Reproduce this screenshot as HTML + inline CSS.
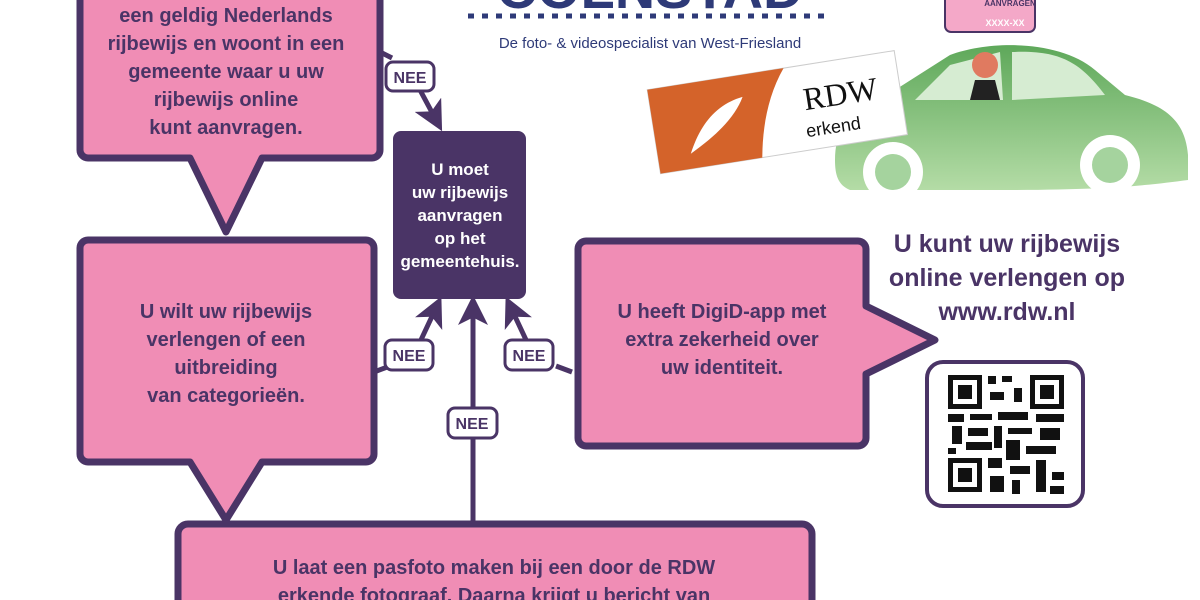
<!DOCTYPE html>
<html><head><meta charset="utf-8"><style>
html,body{margin:0;padding:0;background:#fff;width:1200px;height:600px;overflow:hidden}
svg{display:block}
.t{font-family:"Liberation Sans",sans-serif;font-weight:bold;fill:#4a3466;font-size:20px;text-anchor:middle}
.w{fill:#fff;font-size:17px}
.n{font-family:"Liberation Sans",sans-serif;font-weight:bold;font-size:16px;fill:#4a3466;text-anchor:middle}
</style></head><body>
<svg width="1200" height="600" viewBox="0 0 1200 600">
<defs><marker id="a" markerWidth="6" markerHeight="6" refX="3" refY="3" orient="auto" markerUnits="strokeWidth"><path d="M0,0 L6,3 L0,6 L1.5,3z" fill="#4a3466"/></marker>
<linearGradient id="g" x1="0" y1="0" x2="0" y2="1"><stop offset="0" stop-color="#5ea85a"/><stop offset="1" stop-color="#b4dca6"/></linearGradient></defs>
<g stroke="#4a3466" stroke-width="7" stroke-linejoin="round" fill="#f08db5">
<path d="M88,-20 H372 a8,8 0 0 1 8,8 V150 a8,8 0 0 1 -8,8 H262 L226,232 L190,158 H88 a8,8 0 0 1 -8,-8 V-12z"/>
<path d="M88,240 H366 a8,8 0 0 1 8,8 V454 a8,8 0 0 1 -8,8 H262 L226,520 L190,462 H88 a8,8 0 0 1 -8,-8 V248 a8,8 0 0 1 8,-8z"/>
<path d="M586,241 H858 a8,8 0 0 1 8,8 V306 L935,340 L866,374 V438 a8,8 0 0 1 -8,8 H586 a8,8 0 0 1 -8,-8 V249 a8,8 0 0 1 8,-8z"/>
<rect x="178" y="524" width="634" height="110" rx="10"/>
</g>
<rect x="393" y="131" width="133" height="168" rx="8" fill="#4a3466"/>
<g stroke="#4a3466" stroke-width="5" fill="none">
<path d="M380,52 L392,58"/><path d="M420,90 L435,118" marker-end="url(#a)"/>
<path d="M374,372 L390,366"/><path d="M420,342 L435,310" marker-end="url(#a)"/>
<path d="M572,372 L556,366"/><path d="M527,342 L512,310" marker-end="url(#a)"/>
<path d="M473,522 V310" marker-end="url(#a)"/>
</g>
<g stroke="#4a3466" stroke-width="3" fill="#fff">
<rect x="386" y="62" width="48" height="29" rx="7"/>
<rect x="385" y="340" width="48" height="30" rx="7"/>
<rect x="505" y="340" width="48" height="30" rx="7"/>
<rect x="448" y="408" width="49" height="30" rx="7"/>
</g>
<text class="n" x="410" y="83">NEE</text><text class="n" x="409" y="361">NEE</text>
<text class="n" x="529" y="361">NEE</text><text class="n" x="472" y="429">NEE</text>
<text class="t" x="226" y="22">een geldig Nederlands</text>
<text class="t" x="226" y="50">rijbewijs en woont in een</text>
<text class="t" x="226" y="78">gemeente waar u uw</text>
<text class="t" x="226" y="106">rijbewijs online</text>
<text class="t" x="226" y="134">kunt aanvragen.</text>
<text class="t" x="226" y="318">U wilt uw rijbewijs</text>
<text class="t" x="226" y="346">verlengen of een</text>
<text class="t" x="226" y="374">uitbreiding</text>
<text class="t" x="226" y="402">van categorieën.</text>
<text class="t w" x="460" y="175">U moet</text>
<text class="t w" x="460" y="198">uw rijbewijs</text>
<text class="t w" x="460" y="221">aanvragen</text>
<text class="t w" x="460" y="244">op het</text>
<text class="t w" x="460" y="267">gemeentehuis.</text>
<text class="t" x="722" y="318">U heeft DigiD-app met</text>
<text class="t" x="722" y="346">extra zekerheid over</text>
<text class="t" x="722" y="374">uw identiteit.</text>
<text class="t" x="494" y="574">U laat een pasfoto maken bij een door de RDW</text>
<text class="t" x="494" y="602">erkende fotograaf. Daarna krijgt u bericht van</text>
<text class="t" x="1007" y="252" style="font-size:25px">U kunt uw rijbewijs</text>
<text class="t" x="1007" y="286" style="font-size:25px">online verlengen op</text>
<text class="t" x="1007" y="320" style="font-size:25px">www.rdw.nl</text>
<!-- logo -->
<text x="650" y="8" style="font-family:'Liberation Sans',sans-serif;font-weight:bold;font-size:56px;fill:#2e3a78;text-anchor:middle">COLNSTAD</text>
<line x1="468" y1="16" x2="830" y2="16" stroke="#2e3a78" stroke-width="5" stroke-dasharray="6,8"/>
<text x="650" y="48" style="font-family:'Liberation Sans',sans-serif;font-size:15px;fill:#2e3a78;text-anchor:middle">De foto- &amp; videospecialist van West-Friesland</text>
<!-- car -->
<path d="M835,160 C835,120 860,100 895,90 L950,55 C990,40 1060,40 1095,70 L1125,95 C1165,105 1185,120 1188,155 L1188,180 C1150,185 1110,190 1000,190 L850,190 C838,185 835,175 835,160z" fill="url(#g)"/>
<path d="M950,65 L1000,52 L1003,100 L915,100z M1012,52 C1060,50 1080,62 1105,95 L1012,100z" fill="#d6ecd2"/>
<circle cx="893" cy="172" r="30" fill="#fff"/><circle cx="893" cy="172" r="18" fill="#a5d39e"/>
<circle cx="1110" cy="165" r="30" fill="#fff"/><circle cx="1110" cy="165" r="18" fill="#a5d39e"/>
<rect x="945" y="-10" width="90" height="42" rx="6" fill="#f4a8c8" stroke="#4a3466" stroke-width="2"/>
<text x="1010" y="6" style="font-family:'Liberation Sans',sans-serif;font-size:8px;font-weight:bold;fill:#4a3466;text-anchor:middle">AANVRAGEN</text>
<text x="1005" y="26" style="font-family:'Liberation Sans',sans-serif;font-size:9px;font-weight:bold;fill:#fff;text-anchor:middle">XXXX-XX</text>
<circle cx="985" cy="65" r="13" fill="#e07a60"/>
<path d="M975,80 L995,80 L1000,100 L970,100z" fill="#222"/>
<!-- RDW badge -->
<g transform="rotate(-9 775 110)">
<rect x="652" y="70" width="250" height="85" fill="#fff" stroke="#ccc"/>
<path d="M652,70 H790 C770,95 760,125 755,155 H652z" fill="#d4632a"/>
<path d="M685,140 C700,110 720,95 745,92 C735,110 715,125 685,140z" fill="#fff"/>
<text x="842" y="115" style="font-family:'Liberation Serif',serif;font-size:32px;fill:#111;text-anchor:middle">RDW</text>
<text x="830" y="142" style="font-family:'Liberation Sans',sans-serif;font-size:18px;fill:#111;text-anchor:middle">erkend</text>
</g>
<!-- QR -->
<rect x="927" y="362" width="156" height="144" rx="16" fill="#fff" stroke="#4a3466" stroke-width="4"/>
<g fill="#111">
<rect x="948" y="375" width="34" height="34"/><rect x="1030" y="375" width="34" height="34"/><rect x="948" y="458" width="34" height="34"/>
</g>
<g fill="#fff"><rect x="953" y="380" width="24" height="24"/><rect x="1035" y="380" width="24" height="24"/><rect x="953" y="463" width="24" height="24"/></g>
<g fill="#111"><rect x="958" y="385" width="14" height="14"/><rect x="1040" y="385" width="14" height="14"/><rect x="958" y="468" width="14" height="14"/>
<path d="M988,376h8v8h-8zM1002,376h10v6h-10zM990,392h14v8h-14zM1014,388h8v14h-8zM948,414h16v8h-16zM970,414h22v6h-22zM998,412h30v8h-30zM1036,414h28v8h-28zM952,426h10v18h-10zM968,428h20v8h-20zM994,426h8v22h-8zM1008,428h24v6h-24zM1040,428h20v12h-20zM966,442h26v8h-26zM1006,440h14v20h-14zM1026,446h30v8h-30zM948,448h8v6h-8zM988,458h14v10h-14zM1010,466h20v8h-20zM1036,460h10v32h-10zM990,476h14v16h-14zM1012,480h8v14h-8zM1052,472h12v8h-12zM1050,486h14v8h-14z"/></g>
</svg>
</body></html>
